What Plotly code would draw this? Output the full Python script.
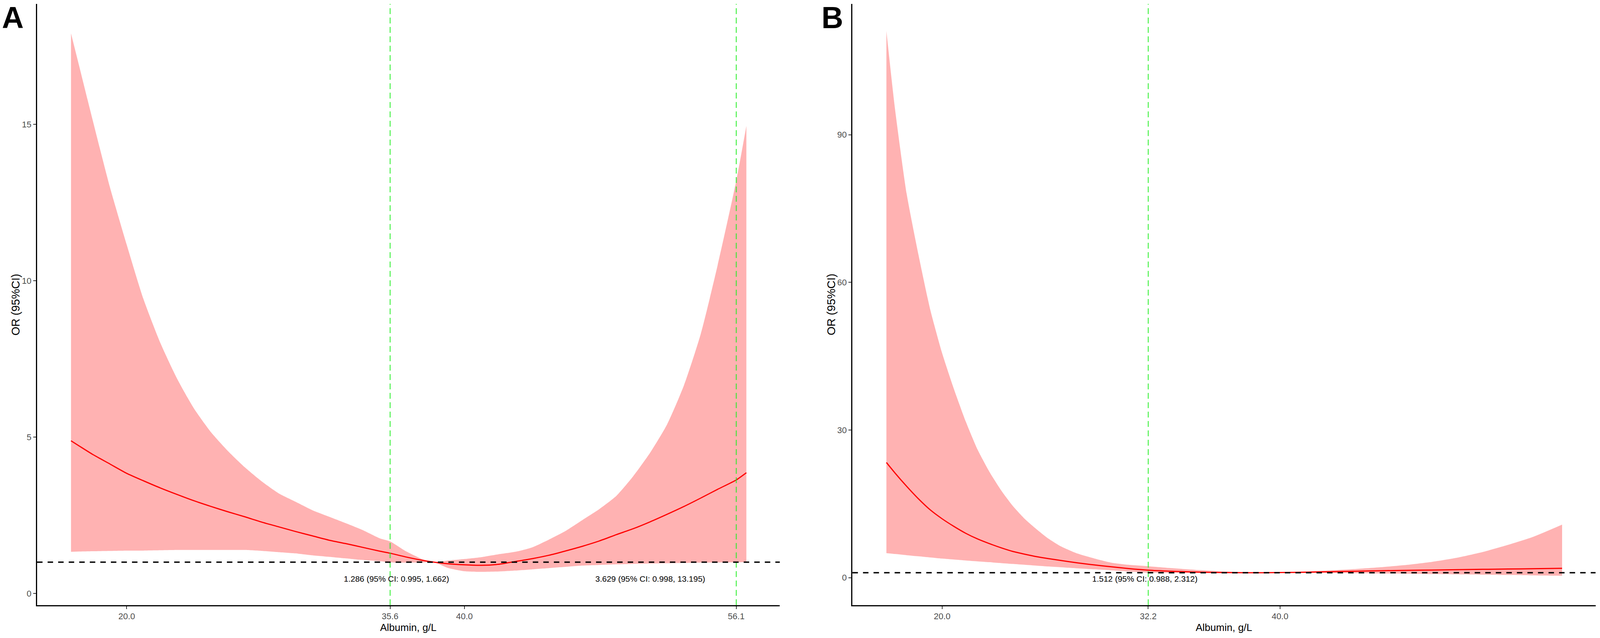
import plotly.graph_objects as go

# panel A
alb_a = [16.7, 17.2, 18.0, 19.0, 20.0, 21.0, 22.0, 23.0, 24.0, 25.0, 26.0, 27.0, 28.0, 29.0,
         30.0, 31.0, 32.0, 33.0, 34.0, 35.0, 35.6, 36.5, 37.5, 38.2, 39.0, 40.0, 41.0, 42.0,
         43.0, 44.0, 45.0, 46.0, 47.0, 48.0, 49.0, 50.0, 51.0, 52.0, 53.0, 54.0, 55.0, 56.1, 56.7]
or_a = [4.88, 4.71, 4.44, 4.14, 3.84, 3.60, 3.37, 3.16, 2.96, 2.78, 2.61, 2.45, 2.28, 2.13,
        1.98, 1.84, 1.70, 1.59, 1.47, 1.35, 1.286, 1.17, 1.06, 1.0, 0.95, 0.915, 0.90, 0.93,
        1.02, 1.11, 1.22, 1.36, 1.51, 1.68, 1.88, 2.07, 2.29, 2.53, 2.78, 3.05, 3.33, 3.629, 3.86]
lo_a = [1.33, 1.34, 1.35, 1.36, 1.37, 1.37, 1.38, 1.39, 1.39, 1.39, 1.39, 1.39, 1.36, 1.32,
        1.28, 1.22, 1.17, 1.12, 1.07, 1.03, 0.995, 0.985, 0.99, 1.0, 0.82, 0.71, 0.69, 0.70,
        0.73, 0.77, 0.81, 0.85, 0.89, 0.91, 0.93, 0.945, 0.955, 0.965, 0.975, 0.985, 0.99, 0.998, 1.0]
hi_a = [17.91, 16.83, 15.1, 13.0, 11.15, 9.40, 8.0, 6.85, 5.9, 5.15, 4.55, 4.03, 3.58, 3.2,
        2.93, 2.66, 2.45, 2.24, 2.02, 1.76, 1.662, 1.36, 1.1, 1.0, 1.05, 1.1, 1.16, 1.25,
        1.33, 1.47, 1.72, 2.0, 2.35, 2.7, 3.12, 3.75, 4.5, 5.4, 6.65, 8.3, 10.5, 13.195, 14.95]
cut_a = [35.6, 56.1]
lab_a = ["1.286 (95% CI: 0.995, 1.662)", "3.629 (95% CI: 0.998, 13.195)"]
lab_a_x = [35.98, 51.0]
lab_a_y = 0.475

# panel B
alb_b = [16.7, 17.2, 17.9, 18.6, 19.3, 20.0, 20.7, 21.4, 22.1, 22.8, 23.5, 24.2, 24.9, 25.6,
         26.3, 27.0, 28.0, 29.0, 30.0, 31.0, 32.2, 33.5, 35.0, 36.5, 38.0, 39.0, 40.0, 41.5,
         43.0, 44.5, 46.0, 47.5, 49.0, 50.5, 52.0, 53.5, 55.0, 56.7]
or_b = [23.4, 21.3, 18.55, 16.0, 13.75, 11.95, 10.4, 9.0, 7.85, 6.9, 6.05, 5.3, 4.75, 4.25,
        3.85, 3.5, 3.0, 2.58, 2.2, 1.85, 1.512, 1.3, 1.13, 1.04, 1.0, 1.0, 1.03, 1.1,
        1.2, 1.3, 1.4, 1.47, 1.54, 1.61, 1.68, 1.74, 1.8, 1.88]
lo_b = [4.97, 4.8, 4.56, 4.33, 4.1, 3.87, 3.67, 3.48, 3.3, 3.13, 2.95, 2.78, 2.6, 2.43,
        2.26, 2.1, 1.88, 1.68, 1.48, 1.27, 0.988, 0.95, 0.96, 0.98, 1.0, 0.98, 0.96, 0.95,
        0.94, 0.9, 0.85, 0.78, 0.72, 0.66, 0.6, 0.53, 0.45, 0.37]
hi_b = [111.1, 95.5, 78.0, 65.6, 54.4, 45.6, 38.3, 31.7, 26.0, 21.5, 17.7, 14.5, 11.9, 9.8,
        7.9, 6.4, 4.9, 3.9, 3.05, 2.62, 2.312, 1.95, 1.58, 1.3, 1.08, 1.05, 1.1, 1.25,
        1.48, 1.75, 2.12, 2.58, 3.2, 4.05, 5.2, 6.65, 8.3, 10.76]
cut_b = [32.2]
lab_b = ["1.512 (95% CI: 0.988, 2.312)"]
lab_b_x = [32.0]
lab_b_y = -0.2

x_title = "Albumin, g/L"
y_title = "OR (95%CI)"

# reference size, only used to turn pixel positions into fractions
W, H = 4317, 1632
FONT = "Liberation Sans, Arial, sans-serif"
band = "rgba(255,0,0,0.3)"

fig = go.Figure()


def add_panel(xs, est, lo, hi, cuts, labs, lab_x, lab_y, xa, ya):
    fig.add_trace(go.Scatter(x=xs, y=lo, mode="lines", line=dict(width=0, shape="spline", smoothing=0.6),
                             xaxis=xa, yaxis=ya, showlegend=False, hoverinfo="skip"))
    fig.add_trace(go.Scatter(x=xs, y=hi, mode="lines", line=dict(width=0, shape="spline", smoothing=0.6),
                             fill="tonexty", fillcolor=band, xaxis=xa, yaxis=ya, showlegend=False))
    fig.add_trace(go.Scatter(x=xs, y=est, mode="lines",
                             line=dict(color="#FF0000", width=3, shape="spline", smoothing=0.6),
                             xaxis=xa, yaxis=ya, showlegend=False))
    ref = "" if xa == "x" else xa[1:]
    for c in cuts:
        fig.add_shape(type="line", x0=c, x1=c, y0=0, y1=1, xref="x" + ref, yref="y" + ref + " domain",
                      line=dict(color="#22EE22", width=2, dash="15px,9px"))
    fig.add_shape(type="line", x0=0, x1=1, y0=1, y1=1, xref="x" + ref + " domain", yref="y" + ref,
                  line=dict(color="black", width=3.5, dash="14px,13px"))
    for t, lx in zip(labs, lab_x):
        fig.add_annotation(x=lx, y=lab_y, xref="x" + ref, yref="y" + ref, text=t, showarrow=False,
                           font=dict(size=21, color="black", family=FONT), xanchor="center", yanchor="middle")


add_panel(alb_a, or_a, lo_a, hi_a, cut_a, lab_a, lab_a_x, lab_a_y, "x", "y")
add_panel(alb_b, or_b, lo_b, hi_b, cut_b, lab_b, lab_b_x, lab_b_y, "x2", "y2")

ax_common = dict(showline=True, linecolor="black", linewidth=3, ticks="outside", ticklen=7,
                 tickwidth=2, tickcolor="#333333", showgrid=False, zeroline=False,
                 tickfont=dict(size=22, color="#4D4D4D", family=FONT), automargin=False)
ydom = [(H - 1548) / H, (H - 10) / H]

fig.update_layout(
    autosize=True,
    margin=dict(l=0, r=0, t=0, b=0),
    paper_bgcolor="white", plot_bgcolor="white",
    font=dict(family=FONT),
    xaxis=dict(ax_common, domain=[100 / W, 2104 / W], range=[14.69, 58.68],
               tickvals=[20, 35.6, 40, 56.1], ticktext=["20.0", "35.6", "40.0", "56.1"]),
    yaxis=dict(ax_common, domain=ydom, range=[-0.375, 18.85], tickvals=[0, 5, 10, 15]),
    xaxis2=dict(ax_common, domain=[2300 / W, 4305 / W], range=[14.69, 58.68], anchor="y2",
                tickvals=[20, 32.2, 40], ticktext=["20.0", "32.2", "40.0"]),
    yaxis2=dict(ax_common, domain=ydom, range=[-5.6, 116.6], anchor="x2", tickvals=[0, 30, 60, 90]),
)

# axis titles placed by hand so they sit where ggplot put them
for cx in [1102, 3302.5]:
    fig.add_annotation(x=cx / W, y=1 - 1605 / H, xref="paper", yref="paper", text=x_title,
                       showarrow=False, font=dict(size=26, color="black", family=FONT),
                       xanchor="center", yanchor="middle")
for cx in [42.5, 2242.5]:
    fig.add_annotation(x=cx / W, y=1 - 779 / H, xref="paper", yref="paper", text=y_title,
                       textangle=-90, showarrow=False, font=dict(size=29, color="black", family=FONT),
                       xanchor="center", yanchor="middle")

for letter, px in [("A", 34.5), ("B", 2246)]:
    fig.add_annotation(x=px / W, y=1, xref="paper", yref="paper", text="<b>" + letter + "</b>",
                       showarrow=False, font=dict(size=77, color="black", family=FONT),
                       xanchor="center", yanchor="top")

# the graph div is pinned to the window so it fills it exactly
fig.write_html("out.html", config={"responsive": True, "displayModeBar": False},
               default_width="100vw; position:fixed; left:0; top:0", default_height="100vh")
